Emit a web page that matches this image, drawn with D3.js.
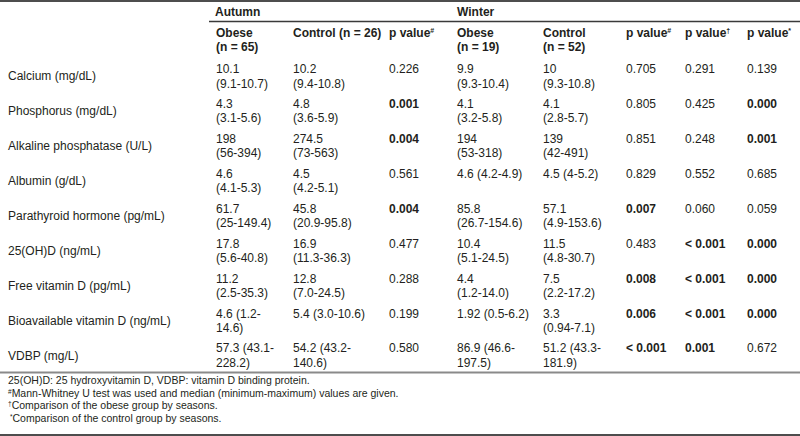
<!DOCTYPE html>
<html><head><meta charset="utf-8">
<script src="https://cdn.jsdelivr.net/npm/d3@7"></script>
<style>
html,body{margin:0;padding:0;background:#fff;}
svg text{font-family:"Liberation Sans",Arial,sans-serif;font-size:12px;fill:#231f20;}
svg text.foot{font-size:10.5px;}
</style></head>
<body><div id="chart"></div>
<script>
const categories = ["Calcium (mg/dL)","Phosphorus (mg/dL)","Alkaline phosphatase (U/L)","Albumin (g/dL)","Parathyroid hormone (pg/mL)","25(OH)D (ng/mL)","Free vitamin D (pg/mL)","Bioavailable vitamin D (ng/mL)","VDBP (mg/L)"];
const autumnObese = ["10.1\n(9.1-10.7)","4.3\n(3.1-5.6)","198\n(56-394)","4.6\n(4.1-5.3)","61.7\n(25-149.4)","17.8\n(5.6-40.8)","11.2\n(2.5-35.3)","4.6 (1.2-\n14.6)","57.3 (43.1-\n228.2)"];
const autumnControl = ["10.2\n(9.4-10.8)","4.8\n(3.6-5.9)","274.5\n(73-563)","4.5\n(4.2-5.1)","45.8\n(20.9-95.8)","16.9\n(11.3-36.3)","12.8\n(7.0-24.5)","5.4 (3.0-10.6)","54.2 (43.2-\n140.6)"];
const autumnP = ["0.226","0.001","0.004","0.561","0.004","0.477","0.288","0.199","0.580"];
const winterObese = ["9.9\n(9.3-10.4)","4.1\n(3.2-5.8)","194\n(53-318)","4.6 (4.2-4.9)","85.8\n(26.7-154.6)","10.4\n(5.1-24.5)","4.4\n(1.2-14.0)","1.92 (0.5-6.2)","86.9 (46.6-\n197.5)"];
const winterControl = ["10\n(9.3-10.8)","4.1\n(2.8-5.7)","139\n(42-491)","4.5 (4-5.2)","57.1\n(4.9-153.6)","11.5\n(4.8-30.7)","7.5\n(2.2-17.2)","3.3\n(0.94-7.1)","51.2 (43.3-\n181.9)"];
const winterP = ["0.705","0.805","0.851","0.829","0.007","0.483","0.008","0.006","< 0.001"];
const obeseSeasonP = ["0.291","0.425","0.248","0.552","0.060","< 0.001","< 0.001","< 0.001","0.001"];
const controlSeasonP = ["0.139","0.000","0.001","0.685","0.059","0.000","0.000","0.000","0.672"];
const seasons = ["Autumn","Winter"];
const columnKeys = ["aObese","aControl","aP","wObese","wControl","wP","pObese","pControl"];
const columnHeaders = [["Obese","(n = 65)"],["Control (n = 26)"],["p value","#"],["Obese","(n = 19)"],["Control","(n = 52)"],["p value","#"],["p value","\u2020"],["p value","*"]];
const footnotes = [["","25(OH)D: 25 hydroxyvitamin D, VDBP: vitamin D binding protein."],["#","Mann-Whitney U test was used and median (minimum-maximum) values are given."],["\u2020","Comparison of the obese group by seasons."],["*","Comparison of the control group by seasons."]];

const W = 800, H = 436;
const svg = d3.select("#chart").append("svg").attr("width", W).attr("height", H);

const x = d3.scaleOrdinal().domain(columnKeys).range([216, 293, 389, 457, 543, 626, 685, 747]);
const xSeason = d3.scaleOrdinal().domain(seasons).range([215, 457]);
const y = d3.scaleBand().domain(categories).range([59, 373]);
const lineH = 14.2;

const cols = [autumnObese, autumnControl, autumnP, winterObese, winterControl, winterP, obeseSeasonP, controlSeasonP];
const isP = [false,false,true,false,false,true,true,true];

// rules
svg.append("line").attr("x1",0).attr("x2",W).attr("y1",1).attr("y2",1).attr("stroke","#4d4d4d").attr("stroke-width",2);
svg.append("line").attr("x1",209).attr("x2",W).attr("y1",21.5).attr("y2",21.5).attr("stroke","#3a3a3a").attr("stroke-width",1.5);
svg.append("line").attr("x1",0).attr("x2",W).attr("y1",372.5).attr("y2",372.5).attr("stroke","#8a8a8a").attr("stroke-width",2);
svg.append("line").attr("x1",0).attr("x2",W).attr("y1",435).attr("y2",435).attr("stroke","#4d4d4d").attr("stroke-width",2);

// season header
svg.selectAll("text.season").data(seasons).join("text").attr("class","season")
  .attr("x", d => xSeason(d)).attr("y", 16).attr("font-weight","bold").text(d => d);

// column headers
columnKeys.forEach((k,i) => {
  const h = columnHeaders[i];
  if (h[0].startsWith("p value")) {
    const t = svg.append("text").attr("x", x(k)).attr("y", 37).attr("font-weight","bold").text(h[0]);
    t.append("tspan").attr("dy",-4).attr("font-size","7px").text(h[1]);
  } else {
    h.forEach((line,j) => {
      svg.append("text").attr("x", x(k)).attr("y", 37 + j*lineH).attr("font-weight","bold").text(line);
    });
  }
});

// row labels
const rowCenter = d => y(d) + y.bandwidth()/2;
svg.selectAll("text.lab").data(categories).join("text").attr("class","lab")
  .attr("x", 8).attr("y", d => rowCenter(d) + 4).text(d => d);

// cells
const pBold = s => parseFloat(s.replace("<","").trim()) < 0.05;
cols.forEach((arr, ci) => {
  const key = columnKeys[ci];
  arr.forEach((val, ri) => {
    const cat = categories[ri];
    const top = rowCenter(cat) - lineH/2 + 4;
    val.split("\n").forEach((line, li) => {
      svg.append("text").attr("x", x(key)).attr("y", top + li*lineH)
        .attr("font-weight", isP[ci] && pBold(val) ? "bold" : null)
        .text(line);
    });
  });
});

// footnotes
footnotes.forEach((f, i) => {
  const t = svg.append("text").attr("class","foot").attr("x", f[0]==="*" ? 10 : 8).attr("y", 384 + i*12.5);
  if (f[0]) t.append("tspan").attr("dy",-3).attr("font-size","6.5px").text(f[0]);
  t.append("tspan").attr("dy", f[0] ? 3 : 0).text(f[1]);
});
</script></body></html>
